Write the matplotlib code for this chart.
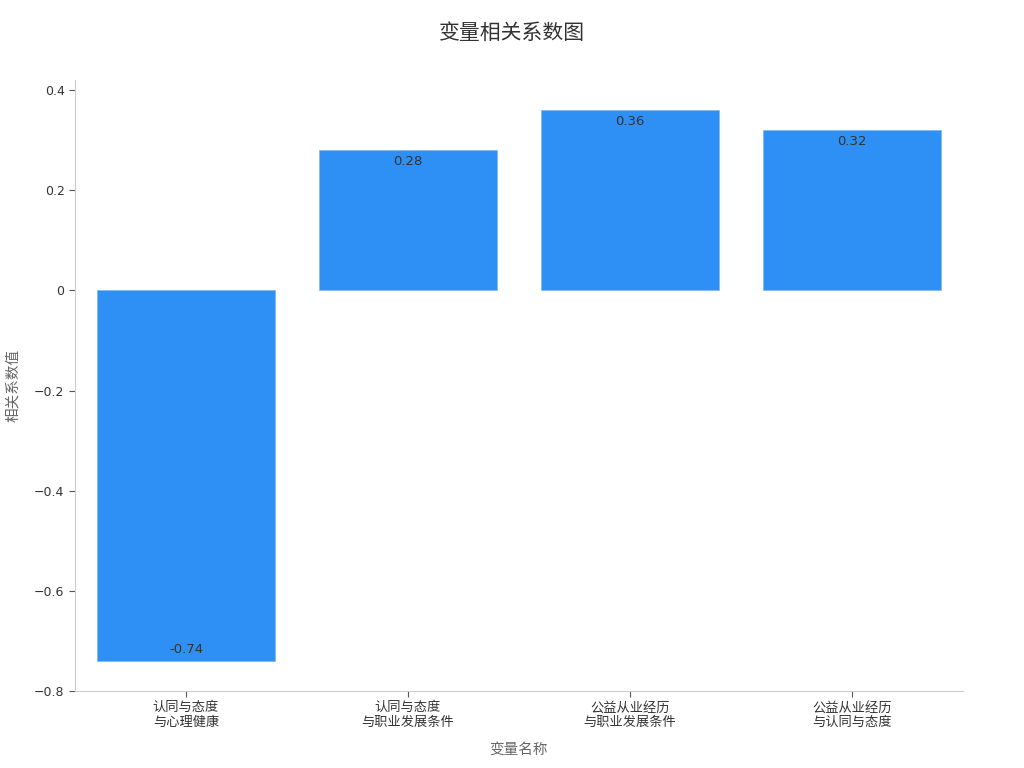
import matplotlib.pyplot as plt
from matplotlib.ticker import FuncFormatter

plt.rcParams['font.family'] = ['DejaVu Sans', 'Noto Sans CJK SC']

# --- Data ---
categories = ["认同与态度\n与心理健康", "认同与态度\n与职业发展条件",
              "公益从业经历\n与职业发展条件", "公益从业经历\n与认同与态度"]
values = [-0.74, 0.28, 0.36, 0.32]

BAR_COLOR = "#2E90F5"

fig = plt.figure(figsize=(10.24, 7.68), dpi=100)
ax = fig.add_axes([0.0732, 0.1003, 0.8672, 0.7955])

x = range(len(categories))
bars = ax.bar(x, values, width=0.8, color=BAR_COLOR, edgecolor="#7fbcf7", linewidth=0.6)

# value labels inside the bars
for b, v in zip(bars, values):
    if v >= 0:
        ax.annotate(f"{v:.2f}", (b.get_x() + b.get_width() / 2, v), xytext=(0, -3.5),
                    textcoords="offset points", ha="center", va="top",
                    fontsize=9.5, color="#333333")
    else:
        ax.annotate(f"{v:.2f}", (b.get_x() + b.get_width() / 2, v), xytext=(0, 3.5),
                    textcoords="offset points", ha="center", va="bottom",
                    fontsize=9.5, color="#333333")

ax.set_xlim(-0.5, 3.5)
ax.set_ylim(-0.8, 0.42)
ax.set_yticks([-0.8, -0.6, -0.4, -0.2, 0, 0.2, 0.4])

def fmt(v, pos):
    if abs(v) < 1e-9:
        return "0"
    return f"{v:.1f}".replace("-", "\u2212")

ax.yaxis.set_major_formatter(FuncFormatter(fmt))
ax.set_xticks(list(x))
ax.set_xticklabels(categories, fontsize=9.5, color="#333333")
ax.tick_params(axis="y", labelsize=9, labelcolor="#333333", color="#555555", length=4)
ax.tick_params(axis="x", color="#555555", length=4)

for s in ["top", "right"]:
    ax.spines[s].set_visible(False)
for s in ["left", "bottom"]:
    ax.spines[s].set_color("#cccccc")

ax.set_xlabel("变量名称", fontsize=10.5, color="#666666", labelpad=9)
ax.set_ylabel("相关系数值", fontsize=10.5, color="#666666", labelpad=10)
fig.suptitle("变量相关系数图", fontsize=15, color="#333333", y=0.97)

fig.savefig("out.png", dpi=100)
